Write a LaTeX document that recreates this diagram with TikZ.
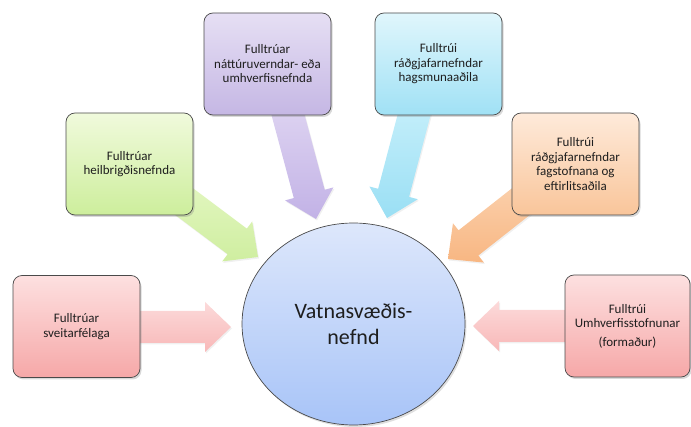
\documentclass[tikz,border=0pt]{standalone}
\usepackage{fontspec}
\setmainfont{Carlito}
\usetikzlibrary{calc,shadows,shapes.geometric}
\definecolor{txt}{HTML}{1E1E1E}
\definecolor{boxline}{HTML}{4A4A4A}
\definecolor{redT}{HTML}{FDE0E0}\definecolor{redB}{HTML}{F6A8A8}
\definecolor{redAT}{HTML}{FCDADA}\definecolor{redAB}{HTML}{F8B8B8}
\definecolor{grnT}{HTML}{F0FADC}\definecolor{grnB}{HTML}{CDEE9C}
\definecolor{grnAT}{HTML}{E6F8C6}\definecolor{grnAB}{HTML}{CFEEA0}
\definecolor{purT}{HTML}{E6DFF4}\definecolor{purB}{HTML}{C5B7E4}
\definecolor{purAT}{HTML}{E0D6F2}\definecolor{purAB}{HTML}{C2B2E6}
\definecolor{cyaT}{HTML}{E0F6FC}\definecolor{cyaB}{HTML}{A0E1F5}
\definecolor{cyaAT}{HTML}{C8F0FB}\definecolor{cyaAB}{HTML}{9ADFF4}
\definecolor{orgT}{HTML}{FEEADA}\definecolor{orgB}{HTML}{F9C59A}
\definecolor{orgAT}{HTML}{FBD4B2}\definecolor{orgAB}{HTML}{F8B682}
\definecolor{cirT}{HTML}{DDE7FB}\definecolor{cirB}{HTML}{A8C4F8}
\tikzset{
  box/.style={draw=boxline, line width=0.7pt, rounded corners=9pt,
    minimum width=127pt, minimum height=102pt, align=center, text=txt,
    font=\fontsize{13}{14.5}\selectfont,
    drop shadow={shadow xshift=1.5pt, shadow yshift=-2pt, opacity=0.3}},
  arrowshade/.style={drop shadow={shadow xshift=1pt, shadow yshift=-1.5pt, opacity=0.12}},
}
\newcommand{\myblockarrow}[3]{%
  \coordinate (#1h) at ($(#1t)!26pt!(#1s)$);
  \path[arrowshade, top color=#2, bottom color=#3]
    ($(#1s)!16pt!90:(#1t)$) -- ($(#1h)!16pt!90:(#1t)$) -- ($(#1h)!25pt!90:(#1t)$)
    -- (#1t) -- ($(#1h)!25pt!-90:(#1t)$) -- ($(#1h)!16pt!-90:(#1t)$)
    -- ($(#1s)!16pt!-90:(#1t)$) -- cycle;}
\begin{document}
\begin{tikzpicture}[x=1pt,y=-1pt]
\useasboundingbox (0,0) rectangle (691,427);
% arrow endpoints
\coordinate (as) at (120,327);  \coordinate (at) at (231,327);
\coordinate (bs) at (585,326);  \coordinate (bt) at (473,326);
\coordinate (cs) at (154,179);  \coordinate (ct) at (258,257);
\coordinate (ds) at (284,100);  \coordinate (dt) at (316,219);
\coordinate (es) at (418,100);  \coordinate (et) at (387,218);
\coordinate (fs) at (542,185);  \coordinate (ft) at (448,259);
\myblockarrow{a}{redAT}{redAB}
\myblockarrow{b}{redAT}{redAB}
\myblockarrow{c}{grnAT}{grnAB}
\myblockarrow{d}{purAT}{purAB}
\myblockarrow{e}{cyaAT}{cyaAB}
\myblockarrow{f}{orgAT}{orgAB}
% centre
\node[ellipse, draw=boxline, line width=0.7pt, minimum width=223pt, minimum height=202pt,
  top color=cirT, bottom color=cirB, text=txt, align=center,
  font=\fontsize{22}{26}\selectfont,
  drop shadow={shadow xshift=1.5pt, shadow yshift=-2pt, opacity=0.25}]
  (c) at (353.5,324) {Vatnasvæðis-\\nefnd};
% boxes
\node[box, top color=redT, bottom color=redB] (b1) at (76.5,326.5) {Fulltrúar\\sveitarfélaga};
\node[box, top color=grnT, bottom color=grnB] (b2) at (129.5,164) {Fulltrúar\\heilbrigðisnefnda};
\node[box, top color=purT, bottom color=purB] (b3) at (267.5,64) {Fulltrúar\\náttúruverndar- eða\\umhverfisnefnda};
\node[box, top color=cyaT, bottom color=cyaB] (b4) at (438.5,64) {Fulltrúi\\ráðgjafarnefndar\\hagsmunaaðila};
\node[box, top color=orgT, bottom color=orgB] (b5) at (575.5,164) {Fulltrúi\\ráðgjafarnefndar\\fagstofnana og\\eftirlitsaðila};
\node[box, top color=redT, bottom color=redB, minimum width=125pt] (b6) at (627.5,326) {Fulltrúi\\Umhverfisstofnunar\\[4pt](formaður)};
\end{tikzpicture}
\end{document}
